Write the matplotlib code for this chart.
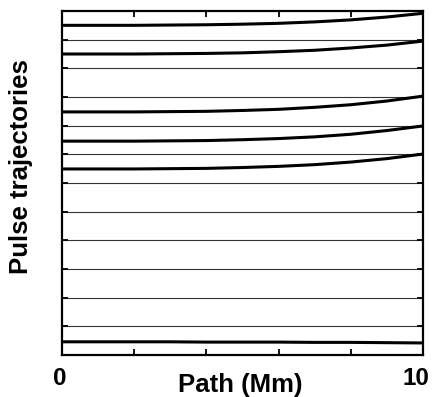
import numpy as np
import matplotlib.pyplot as plt
import matplotlib.transforms as mtransforms
from matplotlib.ticker import MultipleLocator

plt.rcParams['font.family'] = ['Liberation Sans', 'DejaVu Sans']

path = [0, 1, 2, 3, 4, 5, 6, 7, 8, 9, 10]

# thick trajectories
traj_a = [11.50, 11.50, 11.50, 11.51, 11.52, 11.54, 11.57, 11.62, 11.69, 11.79, 11.92]
traj_b = [10.50, 10.50, 10.50, 10.51, 10.52, 10.54, 10.58, 10.63, 10.71, 10.81, 10.95]
traj_c = [8.48, 8.48, 8.48, 8.49, 8.50, 8.53, 8.57, 8.64, 8.73, 8.86, 9.03]
traj_d = [7.46, 7.46, 7.46, 7.47, 7.48, 7.51, 7.55, 7.61, 7.70, 7.83, 7.99]
traj_e = [6.49, 6.49, 6.49, 6.50, 6.51, 6.54, 6.58, 6.64, 6.73, 6.85, 7.01]
traj_f = [0.46, 0.46, 0.46, 0.46, 0.45, 0.45, 0.45, 0.44, 0.44, 0.43, 0.42]

# thin reference levels
levels = [1, 2, 3, 4, 5, 6, 7, 8, 9, 10, 11]

fig = plt.figure(figsize=(4.35, 3.97), dpi=100)
ax = fig.add_axes([0.1425, 0.1058, 0.8299, 0.8665])

for lev in levels:
    ax.axhline(lev, color='#333333', lw=0.8, zorder=1)

for traj in (traj_a, traj_b, traj_c, traj_d, traj_e, traj_f):
    ax.plot(path, traj, color='black', lw=2.2, zorder=2)

ax.set_xlim(0, 10)
ax.set_ylim(0, 12)

ax.set_xticks([0, 10])
ax.set_xticklabels(['0', '10'], fontsize=17.5, fontweight='bold')
ax.xaxis.set_minor_locator(MultipleLocator(2))
ax.set_yticks(levels)
ax.set_yticklabels([])

ax.tick_params(which='both', direction='in', top=True, right=True,
               length=4, width=1.3, pad=9)
ax.tick_params(axis='x', which='major', length=0)

# the "10" sits a bit left of the right edge in the original
lbl = ax.get_xticklabels()
lbl[0].set_transform(lbl[0].get_transform() + mtransforms.ScaledTranslation(-1.5 / 72, 0, fig.dpi_scale_trans))
lbl[1].set_transform(lbl[1].get_transform() + mtransforms.ScaledTranslation(-5 / 72, 0, fig.dpi_scale_trans))

for sp in ax.spines.values():
    sp.set_linewidth(1.6)

ax.set_xlabel('Path (Mm)', fontsize=18.5, fontweight='bold')
ax.xaxis.set_label_coords(0.494, -0.052)
ax.set_ylabel('Pulse trajectories', fontsize=18.5, fontweight='bold')
ax.yaxis.set_label_coords(-0.08, 0.549)

plt.savefig('out.png', dpi=100)
